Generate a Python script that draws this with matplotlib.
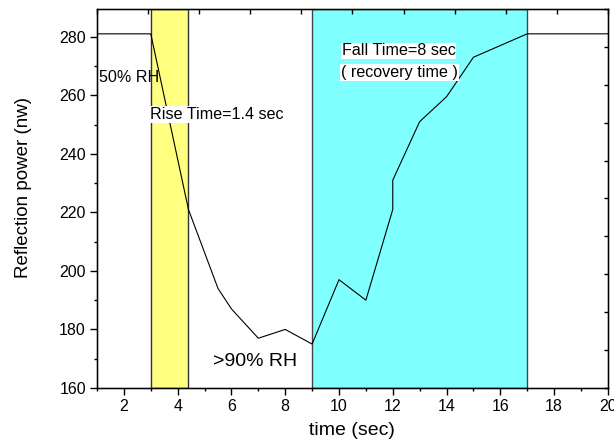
import matplotlib
matplotlib.use("Agg")
import matplotlib.pyplot as plt
from matplotlib.ticker import MultipleLocator, NullFormatter

plt.rcParams['font.family'] = ['Liberation Sans', 'DejaVu Sans']

# Reflection power response to a humidity step
time_s = [1, 3, 4.4, 5.5, 6, 7, 8, 9, 10, 11, 12, 12, 13, 14, 15, 17, 20]
power_nw = [281, 281, 221, 194, 187, 177, 180, 175, 197, 190, 221, 231, 251, 259.5, 273, 281, 281]

rise_window = (3, 4.4)
fall_window = (9, 17)

x_ticks = [2, 4, 6, 8, 10, 12, 14, 16, 18, 20]
y_ticks = [160, 180, 200, 220, 240, 260, 280]

fig = plt.figure(figsize=(6.14, 4.48), dpi=100)
ax = fig.add_axes([0.158, 0.134, 0.832, 0.846])

# shaded rise / recovery intervals
ax.axvspan(*rise_window, facecolor='#FFFF80', edgecolor='#333333', lw=1.0, zorder=1)
ax.axvspan(*fall_window, facecolor='#80FFFF', edgecolor='#444444', lw=1.0, zorder=1)

ax.plot(time_s, power_nw, color='black', lw=0.8, zorder=3)

ax.set_xlim(1, 20)
ax.set_ylim(160, 289.5)
ax.set_xticks(x_ticks)
ax.set_yticks(y_ticks)
ax.xaxis.set_minor_locator(MultipleLocator(1))
ax.yaxis.set_minor_locator(MultipleLocator(10))
ax.tick_params(axis='both', which='major', direction='out', length=5, width=1,
               labelsize=11.5, pad=3)
ax.tick_params(axis='both', which='minor', direction='out', length=2.5, width=1)
for sp in ax.spines.values():
    sp.set_linewidth(1.0)

# plain tick marks on the top and right frame
top = ax.twiny()
top.set_xlim(0, 10)
top.xaxis.set_major_locator(MultipleLocator(1))
top.xaxis.set_major_formatter(NullFormatter())
top.tick_params(axis='x', direction='in', length=3.5, width=1)
right = ax.twinx()
right.set_ylim(0, 10)
right.yaxis.set_major_locator(MultipleLocator(1))
right.yaxis.set_major_formatter(NullFormatter())
right.tick_params(axis='y', direction='in', length=3, width=1)

ax.set_xlabel('time (sec)', fontsize=14)
ax.set_ylabel('Reflection power (nw)', fontsize=13.5)
ax.xaxis.set_label_coords(0.5, -0.09)
ax.yaxis.set_label_coords(-0.127, 0.53)

box = dict(facecolor='white', edgecolor='none', pad=0.6)
ax.text(1.07, 266.1, '50% RH', fontsize=11.6, ha='left', va='center', zorder=4)
ax.text(2.96, 253.5, 'Rise Time=1.4 sec', fontsize=11.6, ha='left', va='center',
        bbox=box, zorder=4)
ax.text(10.1, 275.2, 'Fall Time=8 sec', fontsize=11.6, ha='left', va='center',
        bbox=box, zorder=4)
ax.text(10.08, 267.8, '( recovery time )', fontsize=11.6, ha='left', va='center',
        bbox=box, zorder=4)
ax.text(5.32, 168.9, '>90% RH', fontsize=14, ha='left', va='center', zorder=4)

fig.savefig('out.png', dpi=100)
